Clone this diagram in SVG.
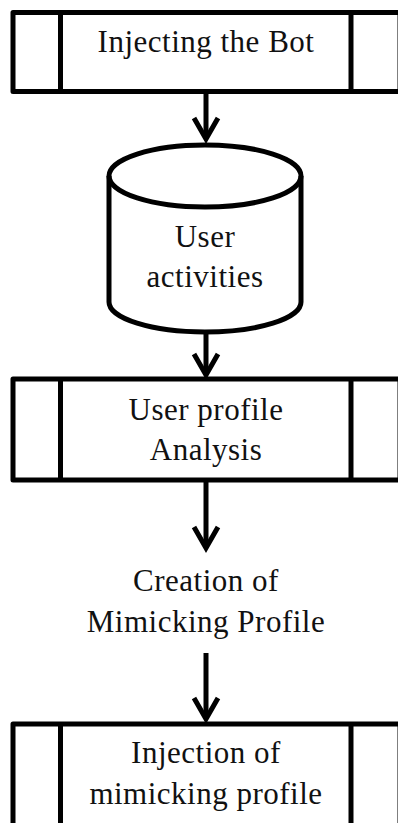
<svg xmlns="http://www.w3.org/2000/svg" width="398" height="823" viewBox="0 0 398 823">
  <defs>
    <style>
      .shape { fill: #fff; stroke: #000; stroke-width: 5; stroke-linejoin: round; }
      .bar { fill: none; stroke: #000; stroke-width: 5; }
      .edge { fill: none; stroke: #000; stroke-width: 5; }
      .head { fill: none; stroke: #000; stroke-width: 5; stroke-linejoin: miter; stroke-linecap: butt; }
      .label { font-family: "Liberation Serif", "Times New Roman", serif; font-size: 31px; letter-spacing: 0.5px; fill: #111; text-anchor: middle; }
    </style>
  </defs>
  <rect width="398" height="823" fill="#fff"/>

  <!-- connectors -->
  <g id="connectors">
    <line class="edge" x1="206" y1="92" x2="206" y2="138"/>
    <polyline class="head" points="194,118 206,139 218,118"/>
    <line class="edge" x1="206" y1="332" x2="206" y2="374"/>
    <polyline class="head" points="194,354 206,375 218,354"/>
    <line class="edge" x1="206" y1="482" x2="206" y2="548"/>
    <polyline class="head" points="194,527 206,548 218,527"/>
    <line class="edge" x1="206" y1="653" x2="206" y2="718"/>
    <polyline class="head" points="194,698 206,719 218,698"/>
  </g>

  <!-- predefined process: Injecting the Bot -->
  <g id="inject-bot">
    <rect class="shape" x="13" y="12.5" width="387" height="79"/>
    <line class="bar" x1="60.5" y1="12.5" x2="60.5" y2="91.5"/>
    <line class="bar" x1="351" y1="12.5" x2="351" y2="91.5"/>
    <text class="label" x="206" y="52">Injecting the Bot</text>
  </g>

  <!-- data store: User activities -->
  <g id="user-activities">
    <path class="shape" d="M109,176 L109,302 A96,30 0 0 0 301,302 L301,176 A96,31 0 0 0 109,176 Z"/>
    <path class="bar" d="M109,176 A96,31 0 0 0 301,176"/>
    <text class="label" x="205" y="247">User</text>
    <text class="label" x="205" y="287">activities</text>
  </g>

  <!-- predefined process: User profile Analysis -->
  <g id="profile-analysis">
    <rect class="shape" x="13" y="379" width="387" height="101"/>
    <line class="bar" x1="60.5" y1="379" x2="60.5" y2="480"/>
    <line class="bar" x1="351" y1="379" x2="351" y2="480"/>
    <text class="label" x="206" y="420">User profile</text>
    <text class="label" x="206" y="460">Analysis</text>
  </g>

  <!-- plain text step: Creation of Mimicking Profile -->
  <g id="creation">
    <text class="label" x="206" y="591">Creation of</text>
    <text class="label" x="206" y="632">Mimicking Profile</text>
  </g>

  <!-- predefined process: Injection of mimicking profile -->
  <g id="inject-profile">
    <rect class="shape" x="13" y="724" width="387" height="110"/>
    <line class="bar" x1="60.5" y1="724" x2="60.5" y2="834"/>
    <line class="bar" x1="351" y1="724" x2="351" y2="834"/>
    <text class="label" x="206" y="763">Injection of</text>
    <text class="label" x="206" y="804">mimicking profile</text>
  </g>
</svg>
